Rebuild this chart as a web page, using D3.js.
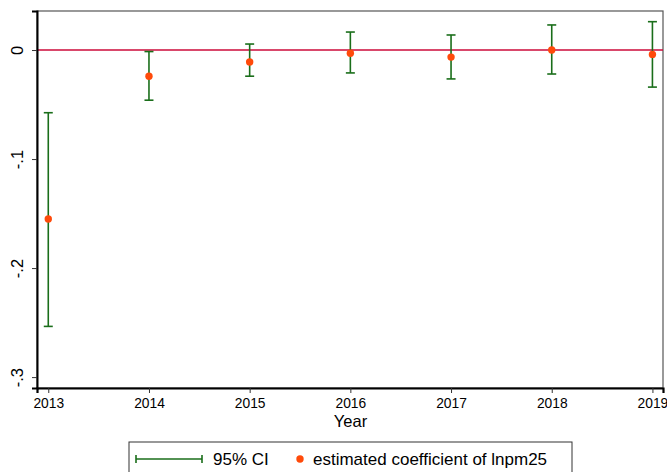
<!DOCTYPE html>
<html>
<head>
<meta charset="utf-8">
<script src="https://cdn.jsdelivr.net/npm/d3@7"></script>
<style>
  body { margin: 0; background: #fff; }
  text { font-family: "Liberation Sans", Arial, sans-serif; }
</style>
</head>
<body>
<div id="chart"></div>
<script>
// values
var years = [2013, 2014, 2015, 2016, 2017, 2018, 2019];
var coef  = [-0.155, -0.024, -0.011, -0.003, -0.0065, 0.000, -0.004];
var lower = [-0.2535, -0.046, -0.024, -0.021, -0.0265, -0.022, -0.034];
var upper = [-0.0575, -0.0014, 0.0055, 0.0165, 0.0138, 0.023, 0.026];
var yTicks = [0, -0.1, -0.2, -0.3];
var yTickLabels = ["0", "-.1", "-.2", "-.3"];

var W = 667, H = 472;
var margin = { top: 11, right: 4, bottom: 84, left: 37 },
    width = W - margin.left - margin.right,
    height = H - margin.top - margin.bottom;

var svg = d3.select("#chart")
    .append("svg")
    .attr("width", W)
    .attr("height", H);

var g = svg.append("g")
    .attr("transform", "translate(" + margin.left + "," + margin.top + ")");

// scales
var x = d3.scaleLinear()
    .domain([2012.888, 2019.105])
    .range([0, width]);

var y = d3.scaleLinear()
    .domain([-0.3100, 0.0358])
    .range([height, 0]);

// plot region outline (top / right)
g.append("rect")
    .attr("x", 0).attr("y", 0)
    .attr("width", width).attr("height", height)
    .attr("fill", "none")
    .attr("stroke", "#555")
    .attr("stroke-width", 1.2);

// zero line
g.append("line")
    .attr("x1", 0).attr("x2", width)
    .attr("y1", y(0)).attr("y2", y(0))
    .attr("stroke", "#cc0a3a")
    .attr("stroke-width", 1.6);

// Y axis
var yAxis = g.append("g")
    .call(d3.axisLeft(y).tickValues(yTicks).tickSize(5).tickFormat(function (d, i) { return yTickLabels[i]; }));
yAxis.select(".domain").attr("stroke", "#000").attr("stroke-width", 2);
yAxis.selectAll(".tick line").attr("stroke", "#333").attr("stroke-width", 1);
yAxis.selectAll(".tick text")
    .attr("transform", "rotate(-90)")
    .attr("x", 0)
    .attr("y", -14)
    .attr("dy", "0")
    .style("text-anchor", "middle")
    .style("font-size", "16.5px")
    .attr("fill", "#000");

// X axis
var xAxis = g.append("g")
    .attr("transform", "translate(0," + height + ")")
    .call(d3.axisBottom(x).tickValues(years).tickSize(5).tickFormat(d3.format("d")));
xAxis.select(".domain").attr("stroke", "#000").attr("stroke-width", 2.2);
xAxis.selectAll(".tick line").attr("stroke", "#333").attr("stroke-width", 1);
xAxis.selectAll(".tick text")
    .attr("y", 10)
    .style("font-size", "13.8px")
    .attr("fill", "#000");

// X axis label
g.append("text")
    .attr("x", width / 2 + 0.5)
    .attr("y", height + 39)
    .attr("text-anchor", "middle")
    .style("font-size", "16.5px")
    .text("Year");

// error bars
var green = "#1a6e1a";
var capW = 4.5;
var bars = g.selectAll(".ci")
    .data(years.map(function (yr, i) { return { yr: yr, lo: lower[i], hi: upper[i] }; }))
    .enter().append("g").attr("class", "ci")
    .attr("stroke", green)
    .attr("stroke-width", 1.6);
bars.append("line")
    .attr("x1", function (d) { return x(d.yr); })
    .attr("x2", function (d) { return x(d.yr); })
    .attr("y1", function (d) { return y(d.lo); })
    .attr("y2", function (d) { return y(d.hi); });
bars.append("line")
    .attr("x1", function (d) { return x(d.yr) - capW; })
    .attr("x2", function (d) { return x(d.yr) + capW; })
    .attr("y1", function (d) { return y(d.hi); })
    .attr("y2", function (d) { return y(d.hi); });
bars.append("line")
    .attr("x1", function (d) { return x(d.yr) - capW; })
    .attr("x2", function (d) { return x(d.yr) + capW; })
    .attr("y1", function (d) { return y(d.lo); })
    .attr("y2", function (d) { return y(d.lo); });

// points
g.selectAll(".pt")
    .data(years.map(function (yr, i) { return { yr: yr, v: coef[i] }; }))
    .enter().append("circle")
    .attr("class", "pt")
    .attr("cx", function (d) { return x(d.yr); })
    .attr("cy", function (d) { return y(d.v); })
    .attr("r", 3.7)
    .attr("fill", "#ff4a0a");

// legend
var lg = svg.append("g").attr("transform", "translate(129,442)");
lg.append("rect")
    .attr("x", 0).attr("y", 0)
    .attr("width", 443).attr("height", 40)
    .attr("fill", "#fff")
    .attr("stroke", "#333")
    .attr("stroke-width", 1);
lg.append("line")
    .attr("x1", 7).attr("x2", 73).attr("y1", 17).attr("y2", 17)
    .attr("stroke", green).attr("stroke-width", 1.6);
lg.append("line")
    .attr("x1", 7).attr("x2", 7).attr("y1", 13).attr("y2", 21)
    .attr("stroke", green).attr("stroke-width", 1.6);
lg.append("line")
    .attr("x1", 73).attr("x2", 73).attr("y1", 13).attr("y2", 21)
    .attr("stroke", green).attr("stroke-width", 1.6);
lg.append("text")
    .attr("x", 84).attr("y", 23)
    .style("font-size", "17px")
    .text("95% CI");
lg.append("circle")
    .attr("cx", 171).attr("cy", 17).attr("r", 3.7)
    .attr("fill", "#ff4a0a");
lg.append("text")
    .attr("x", 184).attr("y", 23)
    .style("font-size", "17px")
    .text("estimated coefficient of lnpm25");
</script>
</body>
</html>
